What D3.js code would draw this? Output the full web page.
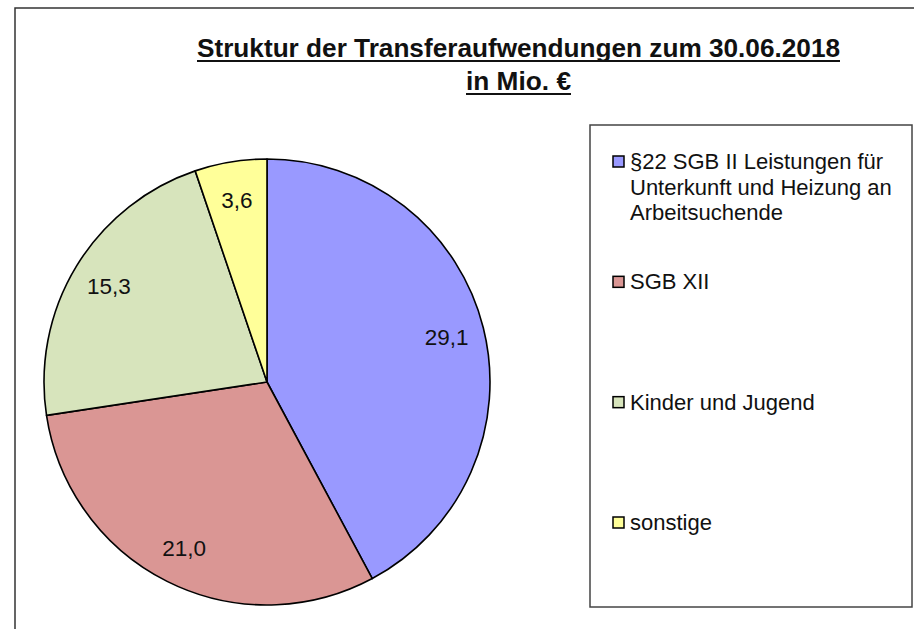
<!DOCTYPE html>
<html><head><meta charset="utf-8">
<script src="https://cdn.jsdelivr.net/npm/d3@7"></script>
<style>body{margin:0;background:#fff}svg{display:block}</style>
</head><body>
<svg id="c" width="914" height="629"></svg>
<script>
const categories = ["§22 SGB II Leistungen für Unterkunft und Heizung an Arbeitsuchende", "SGB XII", "Kinder und Jugend", "sonstige"];
const legendLines = [["§22 SGB II Leistungen für", "Unterkunft und Heizung an", "Arbeitsuchende"], ["SGB XII"], ["Kinder und Jugend"], ["sonstige"]];
const values = [29.1, 21.0, 15.3, 3.6];
const valueLabels = ["29,1", "21,0", "15,3", "3,6"];
const colors = ["#9999FF", "#DA9694", "#D7E4BC", "#FFFF99"];
const titleLines = ["Struktur der Transferaufwendungen zum 30.06.2018", "in Mio. €"];

const svg = d3.select("#c");
const font = "'Liberation Sans', Arial, sans-serif";

// outer frame (partial, as in reference)
svg.append("path").attr("d", "M15,629 V8 H914").attr("fill", "none").attr("stroke", "#333").attr("stroke-width", 1.5);

// title
const tl = [{t: titleLines[0], y: 57, w: 643}, {t: titleLines[1], y: 90, w: 105}];
tl.forEach(d => {
  svg.append("text").attr("x", 518.5).attr("y", d.y).attr("text-anchor", "middle")
    .attr("font-family", font).attr("font-weight", "bold").attr("font-size", 26.5)
    .attr("textLength", d.w).attr("lengthAdjust", "spacingAndGlyphs")
    .attr("fill", "#111").text(d.t);
  svg.append("line").attr("x1", 518.5 - d.w / 2).attr("x2", 518.5 + d.w / 2)
    .attr("y1", d.y + 4).attr("y2", d.y + 4).attr("stroke", "#111").attr("stroke-width", 2);
});

// pie
const cx = 267, cy = 382, R = 223;
const pie = d3.pie().sort(null).value(d => d)(values);
const arc = d3.arc().innerRadius(0).outerRadius(R);
const labelArc = d3.arc().innerRadius(R * 0.83).outerRadius(R * 0.83);
const g = svg.append("g").attr("transform", `translate(${cx},${cy})`);
g.selectAll("path").data(pie).join("path")
  .attr("d", arc).attr("fill", (d, i) => colors[i])
  .attr("stroke", "#000").attr("stroke-width", 1.6).attr("stroke-linejoin", "round");
g.selectAll("text").data(pie).join("text")
  .attr("transform", d => `translate(${labelArc.centroid(d)})`)
  .attr("text-anchor", "middle").attr("dy", "0.36em")
  .attr("font-family", font).attr("font-size", 22.5).attr("fill", "#111")
  .text((d, i) => valueLabels[i]);

// legend
svg.append("rect").attr("x", 590).attr("y", 125).attr("width", 322).attr("height", 482)
  .attr("fill", "#fff").attr("stroke", "#444").attr("stroke-width", 1.5);
const ly = d3.scalePoint().domain(d3.range(categories.length)).range([169, 530]);
const lg = svg.append("g").selectAll("g").data(categories).join("g")
  .attr("transform", (d, i) => `translate(0,${ly(i)})`);
lg.append("rect").attr("x", 613).attr("y", -13).attr("width", 11).attr("height", 11)
  .attr("fill", (d, i) => colors[i]).attr("stroke", "#000").attr("stroke-width", 1.5);
lg.append("text").attr("font-family", font).attr("font-size", 22).attr("fill", "#111")
  .each(function(d, i) {
    d3.select(this).selectAll("tspan").data(legendLines[i]).join("tspan")
      .attr("x", 630).attr("y", (t, j) => j * 25.5).text(t => t);
  });
</script>
</body></html>
